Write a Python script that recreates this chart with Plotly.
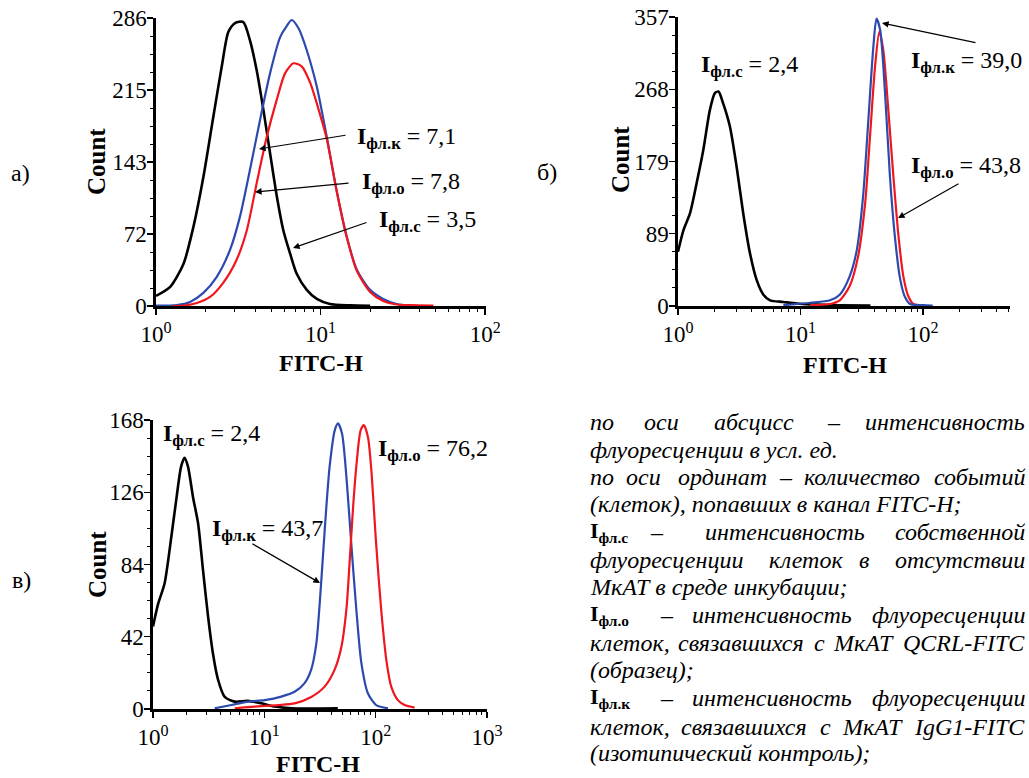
import plotly.graph_objects as go

W, H = 1029, 778

# ---------------- data (FITC-H intensity, count) ----------------
# panel а
a_black_x = [1.00, 1.22, 1.47, 1.69, 1.94, 2.23, 2.51, 2.75, 3.02, 3.39, 3.72, 4.09, 4.49, 4.93, 5.42, 5.94, 6.53, 7.16, 8.24, 9.48, 11.4, 15.1, 20.0]
a_black_y = [10, 19, 42, 79, 128, 188, 238, 272, 281, 282, 264, 234, 195, 152, 109, 75, 52, 32, 16, 7, 2, 0.7, 0.3]
a_blue_x = [1.00, 1.34, 1.61, 1.94, 2.34, 2.82, 3.24, 3.72, 4.29, 4.93, 5.68, 6.22, 6.68, 7.33, 8.24, 9.48, 10.9, 12.5, 14.4, 16.6, 20.0, 24.0, 29.0, 35.0, 39.8]
a_blue_y = [0.3, 1, 4, 13, 29, 56, 89, 135, 185, 231, 267, 278, 284, 276, 254, 218, 168, 115, 69, 36, 16, 7, 2, 0.3, 0]
a_red_x = [1.26, 1.47, 1.77, 2.13, 2.56, 3.09, 3.56, 4.09, 4.71, 5.42, 6.08, 6.84, 7.67, 8.63, 9.93, 10.9, 12.5, 14.4, 16.6, 20.0, 24.0, 29.0, 35.0, 48.5]
a_red_y = [0, 0.3, 3, 9, 23, 46, 75, 122, 168, 205, 231, 241, 238, 222, 190, 166, 115, 69, 35, 14, 5, 1.5, 0.8, 0.3]

# panel б
b_black_x = [1.00, 1.11, 1.25, 1.42, 1.61, 1.82, 2.00, 2.14, 2.34, 2.65, 3.01, 3.41, 3.87, 4.39, 4.98, 5.64, 7.24, 9.33, 12.0, 20.0, 37.2]
b_black_y = [67, 94, 114, 152, 193, 242, 263, 265, 250, 222, 172, 114, 65, 32, 14, 7, 5, 3, 2, 1, 0.5]
b_blue_x = [7.24, 12.0, 17.4, 20.9, 25.1, 28.8, 32.4, 35.8, 39.3, 41.7, 44.7, 49.0, 53.7, 58.9, 64.6, 70.8, 78.3, 100, 120]
b_blue_y = [1, 4, 7, 14, 36, 69, 135, 230, 320, 355, 341, 263, 160, 86, 36, 12, 2.5, 1, 0.4]
b_red_x = [12.0, 17.4, 20.9, 25.1, 29.5, 33.7, 36.9, 40.6, 44.0, 47.4, 52.1, 57.3, 63.1, 69.2, 75.9, 83.2, 91.2]
b_red_y = [1, 2.5, 7, 24, 61, 127, 209, 296, 339, 316, 242, 160, 86, 36, 12, 2.5, 1]

# panel в
c_black_x = [1.00, 1.11, 1.27, 1.46, 1.62, 1.79, 1.92, 2.06, 2.29, 2.54, 2.81, 3.12, 3.46, 3.84, 4.41, 5.42, 7.13, 9.40, 12.4, 17.5, 45.7]
c_black_y = [48, 61, 73, 100, 122, 141, 146, 141, 123, 108, 81, 54, 32, 17, 7, 4.3, 4.7, 3.3, 1.4, 0.4, 0.4]
c_blue_x = [3.58, 5.06, 7.13, 10.1, 14.2, 18.7, 23.0, 26.4, 29.3, 31.4, 33.7, 36.1, 38.6, 42.9, 45.9, 49.9, 54.6, 60.4, 67.0, 74.3, 85.3, 101, 129]
c_blue_y = [0.4, 2.3, 4.3, 5.2, 7.2, 10, 15, 23, 38, 61, 90, 118, 141, 162, 166, 160, 135, 96, 58, 27, 9, 2.3, 0.4]
c_red_x = [5.42, 8.18, 13.3, 18.7, 26.4, 34.8, 42.9, 49.2, 54.6, 58.3, 62.5, 67.0, 73.3, 78.5, 85.3, 91.4, 101, 112, 125, 138, 159, 182, 224]
c_red_y = [0.4, 1.4, 2.3, 3.3, 7, 13, 23, 36, 58, 85, 116, 141, 162, 165, 158, 139, 96, 58, 28, 13, 5, 2.3, 0.8]

# axis tick values / labels
a_ymax, b_ymax, c_ymax = 286, 357, 168
a_yticks = ["0", "72", "143", "215", "286"]
b_yticks = ["0", "89", "179", "268", "357"]
c_yticks = ["0", "42", "84", "126", "168"]
x_tickvals = [1, 10, 100, 1000]
x_ticktext = ["10<sup>0</sup>", "10<sup>1</sup>", "10<sup>2</sup>", "10<sup>3</sup>"]

BLACK = "#000000"
BLUE = "#2c4aae"
RED = "#f0161e"
FONT = "Liberation Serif"

def PX(x):
    return x / W

def PY(y):
    return 1 - y / H

fig = go.Figure()

panels = [
    ("", (156, 486), (18, 306), [0, 2.005], a_ymax, a_yticks,
     [(a_black_x, a_black_y, BLACK, 2.6), (a_blue_x, a_blue_y, BLUE, 2.2), (a_red_x, a_red_y, RED, 2.2)]),
    ("2", (678, 1010), (17, 306), [0, 2.71], b_ymax, b_yticks,
     [(b_black_x, b_black_y, BLACK, 2.6), (b_red_x, b_red_y, RED, 2.2), (b_blue_x, b_blue_y, BLUE, 2.2)]),
    ("3", (153, 487), (420, 709), [0, 3.0], c_ymax, c_yticks,
     [(c_black_x, c_black_y, BLACK, 2.6), (c_blue_x, c_blue_y, BLUE, 2.2), (c_red_x, c_red_y, RED, 2.2)]),
]

layout_axes = {}
for suf, (x0, x1), (y0, y1), xr, ymax, ylabels, series in panels:
    for xs, ys, col, lw in series:
        fig.add_trace(go.Scatter(
            x=xs, y=ys, mode="lines", xaxis="x" + suf, yaxis="y" + suf,
            line=dict(color=col, width=lw, shape="spline", smoothing=0.7),
            hoverinfo="skip", showlegend=False, cliponaxis=True))
    n = max([v for v in x_tickvals if v <= 10 ** xr[1] * 1.01])
    layout_axes["xaxis" + suf] = dict(
        type="log", range=xr, domain=[PX(x0), PX(x1)], anchor="y" + suf,
        automargin=False,
        showline=True, linewidth=2.6, linecolor="black", mirror=False,
        showgrid=False, zeroline=False,
        ticks="outside", ticklen=6, tickwidth=1.4, tickcolor="black",
        tickvals=[v for v in x_tickvals if v <= n],
        ticktext=[t for v, t in zip(x_tickvals, x_ticktext) if v <= n],
        tickfont=dict(family=FONT, size=23, color="black"),
        minor=dict(ticks="outside", ticklen=3.5, tickwidth=1, tickcolor="black",
                   dtick="D1", showgrid=False),
        fixedrange=True)
    layout_axes["yaxis" + suf] = dict(
        range=[0, ymax], domain=[PY(y1), PY(y0)], anchor="x" + suf,
        automargin=False,
        showline=True, linewidth=2.6, linecolor="black",
        showgrid=False, zeroline=False,
        ticks="outside", ticklen=6, tickwidth=1.4, tickcolor="black",
        ticklabelstandoff=-4,
        tickvals=[ymax * i / 4 for i in range(5)], ticktext=ylabels,
        tickfont=dict(family=FONT, size=23, color="black"),
        minor=dict(ticks="outside", ticklen=3.5, tickwidth=1, tickcolor="black",
                   tick0=0, dtick=ymax / 16, showgrid=False),
        fixedrange=True)

annotations = []

def text(x, y, s, size=22, xanchor="left", yanchor="middle", angle=0):
    annotations.append(dict(
        x=PX(x), y=PY(y), xref="paper", yref="paper", text=s, showarrow=False,
        xanchor=xanchor, yanchor=yanchor, textangle=angle,
        font=dict(family=FONT, size=size, color="black")))

def arrow(hx, hy, tx, ty):
    annotations.append(dict(
        x=PX(hx), y=PY(hy), xref="paper", yref="paper", text="",
        showarrow=True, ax=tx - hx, ay=ty - hy, axref="pixel", ayref="pixel",
        arrowhead=2, arrowsize=1.1, arrowwidth=1.2, arrowcolor="black",
        standoff=0, startstandoff=0,
        font=dict(family=FONT, size=12, color="black")))

def ilabel(sub, val):
    return "<b>I</b><sub><b>" + sub + "</b></sub> = " + val

LS = 24  # panel label size

# panel labels, axis titles
text(20, 173, "а)", size=24, xanchor="center")
text(547, 172, "б)", size=24, xanchor="center")
text(21, 580, "в)", size=24, xanchor="center")
for cx, cy in [(97, 162), (620, 160), (97, 565)]:
    text(cx, cy, "<b>Count</b>", size=25, xanchor="center", angle=-90)
for cx, cy in [(321, 363), (845, 365), (318, 764)]:
    text(cx, cy, "<b>FITC-H</b>", size=24, xanchor="center")

# panel а labels
text(355, 138, ilabel("фл.к", "7,1"), size=LS)
arrow(259, 149, 347, 135)
text(360, 183, ilabel("фл.о", "7,8"), size=LS)
arrow(255, 192, 350, 183)
text(377, 221, ilabel("фл.с", "3,5"), size=LS)
arrow(293, 248, 368, 222)

# panel б labels
text(699, 66, ilabel("фл.с", "2,4"), size=LS)
text(909, 62, ilabel("фл.к", "39,0"), size=LS)
arrow(882, 23, 977, 43)
text(909, 167, ilabel("фл.о", "43,8"), size=LS)
arrow(898, 218, 960, 183)

# panel в labels
text(161, 435, ilabel("фл.с", "2,4"), size=LS)
text(376, 450, ilabel("фл.о", "76,2"), size=LS)
text(210, 530, ilabel("фл.к", "43,7"), size=LS)
arrow(320, 583, 251, 543)

# ---------------- explanatory text block ----------------
RIGHT = 1027

def I(sub):
    return "<b>I</b><sub><b>" + sub + "</b></sub>"

lines = [
    (422, [(588, "по"), (642, "оси"), (712, "абсцисс"), (825, "–")], "интенсивность"),
    (450, [(588, "флуоресценции в усл. ед.")], None),
    (477, [(588, "по"), (624, "оси"), (676, "ординат"), (777, "–"), (802, "количество")], "событий"),
    (504, [(588, "(клеток), попавших в канал FITC-H;")], None),
    (532, [(588, "@" + "фл.с"), (648, "–"), (703, "интенсивность")], "собственной"),
    (560, [(588, "флуоресценции"), (767, "клеток"), (857, "в")], "отсутствии"),
    (587, [(588, "МкАТ в среде инкубации;")], None),
    (615, [(588, "@" + "фл.о"), (658, "–"), (690, "интенсивность")], "флуоресценции"),
    (643, [(588, "клеток,"), (676, "связавшихся"), (812, "с"), (831, "МкАТ")], "QCRL-FITC"),
    (670, [(588, "(образец);")], None),
    (698, [(588, "@" + "фл.к"), (658, "–"), (690, "интенсивность")], "флуоресценции"),
    (727, [(588, "клеток,"), (679, "связавшихся"), (818, "с"), (840, "МкАТ")], "IgG1-FITC"),
    (753, [(588, "(изотипический контроль);")], None),
]

TS = 24
for yy, words, last in lines:
    for xx, w in words:
        if w.startswith("@"):
            text(xx, yy, I(w[1:]), size=TS - 2)
        else:
            text(xx, yy, "<i>" + w + "</i>", size=TS)
    if last:
        text(RIGHT, yy, "<i>" + last + "</i>", size=TS, xanchor="right")

fig.update_layout(
    template="none",
    width=W, height=H, margin=dict(l=0, r=0, t=0, b=0, autoexpand=False),
    paper_bgcolor="white", plot_bgcolor="white",
    font=dict(family=FONT, size=22, color="black"),
    showlegend=False, annotations=annotations, **layout_axes)

fig.write_html("out.html", config={"displayModeBar": False, "staticPlot": True},
               post_script="document.body.style.margin='0px';document.body.style.overflow='hidden';")
